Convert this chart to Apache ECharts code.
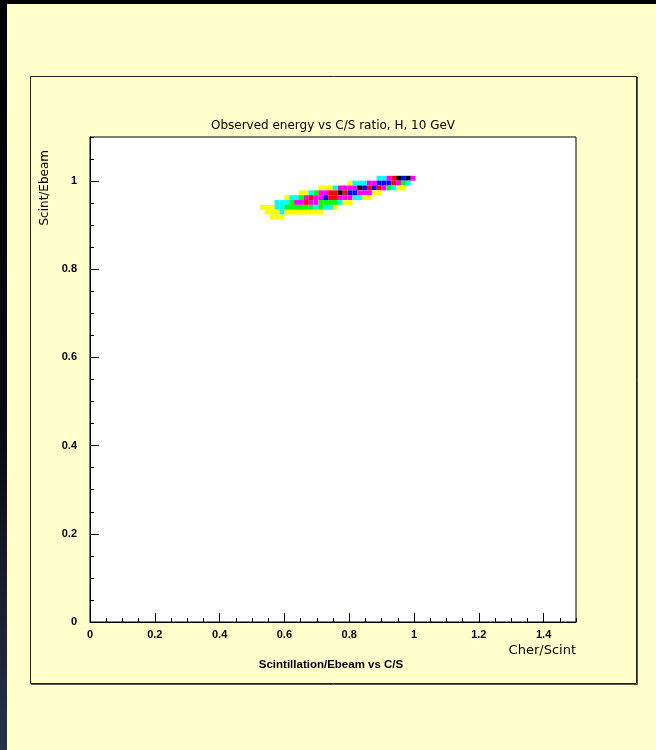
<!DOCTYPE html>
<html>
<head>
<meta charset="utf-8">
<script src="https://cdn.jsdelivr.net/npm/echarts@6/dist/echarts.min.js"></script>
<style>
html,body{margin:0;padding:0;background:#ffffcc;}
#chart{width:656px;height:750px;}
</style>
</head>
<body>
<div id="chart"></div>
<script>
// Histogram binning (TH2: 100 x 100 bins)
const BIN_X = 0.015;
const BIN_Y = 0.011;
// Axis settings
const xTicks = [0, 0.2, 0.4, 0.6, 0.8, 1, 1.2, 1.4];
const yTicks = [0, 0.2, 0.4, 0.6, 0.8, 1];
// Colour levels: 1 yellow, 2 cyan, 3 green, 4 magenta, 5 red, 6 blue, 7 black
const levelColors = ['#ffff00', '#00ffff', '#00ff00', '#ff00ff', '#ff0000', '#0000ff', '#000000'];
// Rows of filled cells: lower y edge, x of first cell, levels of consecutive cells
const rowY      = [1.001, 0.990, 0.979, 0.968, 0.957, 0.946, 0.935, 0.924, 0.913];
const rowXStart = [0.885, 0.795, 0.705, 0.645, 0.600, 0.570, 0.525, 0.540, 0.555];
const rowLevels = [
  [2,2,4,5,7,6,7,4],
  [1,2,2,2,4,4,6,6,6,5,4,3,2],
  [1,1,1,2,4,4,4,4,7,6,5,6,5,4,3,2,1,1],
  [1,1,2,3,4,4,5,5,7,5,6,6,4,4,4,1,1],
  [1,2,2,3,4,5,4,4,6,5,5,4,4,4,2,2,1,1],
  [2,2,2,3,4,4,5,4,4,3,3,3,3,2,1,1],
  [1,1,1,2,2,3,3,3,3,3,3,2,3,2,2,1],
  [1,1,1,2,1,1,1,1,1,1,1,1],
  [1,1,1]
];

const cells = [];
rowY.forEach(function (y, r) {
  rowLevels[r].forEach(function (lv, i) {
    cells.push([+(rowXStart[r] + i * BIN_X).toFixed(4), y, lv]);
  });
});

const chart = echarts.init(document.getElementById('chart'), null, {renderer: 'canvas'});
const labelFont = {fontFamily: 'Liberation Sans', fontWeight: 'bold', fontSize: 11, color: '#000'};

chart.setOption({
  backgroundColor: '#ffffcc',
  animation: false,
  grid: [
    {left: 90, top: 137, width: 486, height: 485, show: true, backgroundColor: '#ffffff', borderColor: '#000', borderWidth: 1},
    {left: 90, top: 137, width: 486, height: 485, show: false}
  ],
  xAxis: [
    {type: 'value', gridIndex: 0, min: 0, max: 1.5, interval: 0.2,
     axisLine: {show: true, onZero: false, lineStyle: {color: '#000'}},
     axisTick: {show: true, inside: true, length: 9, lineStyle: {color: '#000'}},
     axisLabel: Object.assign({margin: 7, showMaxLabel: false, formatter: function (v) { return xTicks.indexOf(+v.toFixed(2)) >= 0 ? String(+v.toFixed(2)) : ''; }}, labelFont),
     splitLine: {show: false}},
    {type: 'value', gridIndex: 1, min: 0, max: 1.5, interval: 0.05,
     axisLine: {show: false, onZero: false},
     axisTick: {show: true, inside: true, length: 4, lineStyle: {color: '#000'}},
     axisLabel: {show: false}, splitLine: {show: false}}
  ],
  yAxis: [
    {type: 'value', gridIndex: 0, min: 0, max: 1.1, interval: 0.2,
     axisLine: {show: true, onZero: false, lineStyle: {color: '#000'}},
     axisTick: {show: true, inside: true, length: 9, lineStyle: {color: '#000'}},
     axisLabel: Object.assign({margin: 13, showMaxLabel: false, formatter: function (v) { return yTicks.indexOf(+v.toFixed(2)) >= 0 ? String(+v.toFixed(2)) : ''; }}, labelFont),
     splitLine: {show: false}},
    {type: 'value', gridIndex: 1, min: 0, max: 1.1, interval: 0.05,
     axisLine: {show: false, onZero: false},
     axisTick: {show: true, inside: true, length: 4, lineStyle: {color: '#000'}},
     axisLabel: {show: false}, splitLine: {show: false}}
  ],
  visualMap: {
    show: false, type: 'piecewise', dimension: 2, seriesIndex: 0,
    pieces: levelColors.map(function (c, i) { return {value: i + 1, color: c}; })
  },
  series: [{
    type: 'custom',
    xAxisIndex: 0, yAxisIndex: 0,
    data: cells,
    encode: {x: 0, y: 1},
    renderItem: function (params, api) {
      const x = api.value(0), y = api.value(1);
      const p0 = api.coord([x, y + BIN_Y]);
      const p1 = api.coord([x + BIN_X, y]);
      return {
        type: 'rect',
        shape: {x: p0[0], y: p0[1], width: p1[0] - p0[0], height: p1[1] - p0[1]},
        style: {fill: api.visual('color'), stroke: null}
      };
    }
  }],
  graphic: [
    {type: 'rect', left: 0, top: 0, shape: {width: 7, height: 750}, silent: true, z: -1,
     style: {fill: new echarts.graphic.LinearGradient(0, 0, 0, 1, [{offset: 0, color: '#000000'}, {offset: 0.6, color: '#0a0d14'}, {offset: 1, color: '#27324a'}])}},
    {type: 'rect', left: 0, top: 0, shape: {width: 656, height: 4}, silent: true, z: -1, style: {fill: '#000000'}},
    {type: 'rect', shape: {x: 30.5, y: 76.5, width: 606, height: 607}, silent: true, z: -1,
     style: {fill: null, stroke: '#222', lineWidth: 1}},
    {type: 'line', shape: {x1: 637.5, y1: 77, x2: 637.5, y2: 684.5}, silent: true, style: {stroke: '#555', lineWidth: 1}},
    {type: 'line', shape: {x1: 31, y1: 684.5, x2: 637.5, y2: 684.5}, silent: true, style: {stroke: '#555', lineWidth: 1}},
    {type: 'text', x: 333, y: 126, silent: true,
     style: {text: 'Observed energy vs C/S ratio, H, 10 GeV', font: '12px "DejaVu Sans"', fill: '#000', align: 'center', verticalAlign: 'middle'}},
    {type: 'text', x: 576, y: 651, silent: true,
     style: {text: 'Cher/Scint', font: '13px "DejaVu Sans"', fill: '#000', align: 'right', verticalAlign: 'middle'}},
    {type: 'text', x: 331, y: 665, silent: true,
     style: {text: 'Scintillation/Ebeam vs C/S', font: 'bold 11.5px "Liberation Sans"', fill: '#000', align: 'center', verticalAlign: 'middle'}},
    {type: 'text', x: 45, y: 150, rotation: Math.PI / 2, silent: true,
     style: {text: 'Scint/Ebeam', font: '12px "DejaVu Sans"', fill: '#000', align: 'right', verticalAlign: 'middle'}}
  ]
});
</script>
</body>
</html>
